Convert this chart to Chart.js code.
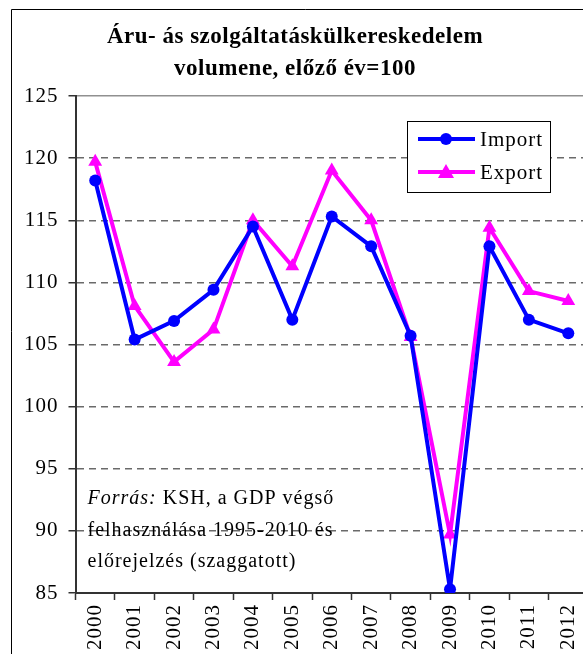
<!DOCTYPE html>
<html>
<head>
<meta charset="utf-8">
<script src="https://cdn.jsdelivr.net/npm/chart.js@4/dist/chart.umd.min.js"></script>
<style>
  html, body { margin: 0; padding: 0; overflow: hidden; background: #fff; }
  canvas { display: block; }
</style>
</head>
<body>
<canvas id="chart" width="600" height="654"></canvas>
<script>
var years = ["2000", "2001", "2002", "2003", "2004", "2005", "2006", "2007", "2008", "2009", "2010", "2011", "2012"];
var importValues = [118.2, 105.4, 106.9, 109.4, 114.5, 107.0, 115.3, 112.9, 105.7, 85.3, 112.9, 107.0, 105.9];
var exportValues = [119.7, 108.1, 103.6, 106.2, 115.0, 111.3, 119.0, 115.0, 105.6, 89.7, 114.4, 109.3, 108.5];
var yTicks = [85, 90, 95, 100, 105, 110, 115, 120, 125];

var titleLines = ["Áru- ás szolgáltatáskülkereskedelem", "volumene, előző év=100"];
var noteLines = [["Forrás:", " KSH, a GDP végső"], ["", "felhasználása 1995-2010 és"], ["", "előrejelzés (szaggatott)"]];

var serif = "'Liberation Serif', 'Times New Roman', serif";

// letter spacing like the original picture
var spacingPlugin = {
    id: "spacing",
    afterInit: function(chart) { chart.ctx.letterSpacing = "1px"; },
    beforeUpdate: function(chart) { chart.ctx.letterSpacing = "1px"; },
    beforeDraw: function(chart) { chart.ctx.letterSpacing = "1px"; }
};

// frame, title, legend box and source note
var extrasPlugin = {
    id: "extras",
    afterDraw: function(chart) {
        var ctx = chart.ctx;
        var area = chart.chartArea;
        ctx.save();

        // outer frame (left + top)
        ctx.strokeStyle = "#000";
        ctx.lineWidth = 1;
        ctx.beginPath();
        ctx.moveTo(11.5, chart.height);
        ctx.lineTo(11.5, 9.5);
        ctx.lineTo(chart.width, 9.5);
        ctx.stroke();

        // title
        ctx.fillStyle = "#000";
        ctx.font = "bold 23px " + serif;
        ctx.letterSpacing = "0.5px";
        ctx.textAlign = "center";
        ctx.textBaseline = "middle";
        titleLines.forEach(function(t, i) {
            ctx.fillText(t, 295, 37 + i * 32);
        });
        ctx.letterSpacing = "1px";

        // legend
        var lx = 407, ly = 121, lw = 143, lh = 71;
        ctx.fillStyle = "#fff";
        ctx.fillRect(lx, ly, lw, lh);
        ctx.strokeStyle = "#000";
        ctx.strokeRect(lx + 0.5, ly + 0.5, lw, lh);

        var entries = [
            { label: "Import", color: "#0000ff", y: ly + 18, marker: "circle" },
            { label: "Export", color: "#ff00ff", y: ly + 51, marker: "triangle" }
        ];
        entries.forEach(function(e) {
            ctx.strokeStyle = e.color;
            ctx.lineWidth = 4;
            ctx.beginPath();
            ctx.moveTo(lx + 11, e.y);
            ctx.lineTo(lx + 68, e.y);
            ctx.stroke();
            ctx.fillStyle = e.color;
            ctx.beginPath();
            if (e.marker === "circle") {
                ctx.arc(lx + 39, e.y, 6, 0, Math.PI * 2);
            } else {
                ctx.moveTo(lx + 39, e.y - 8);
                ctx.lineTo(lx + 47, e.y + 6);
                ctx.lineTo(lx + 31, e.y + 6);
                ctx.closePath();
            }
            ctx.fill();
            ctx.fillStyle = "#000";
            ctx.font = "21px " + serif;
            ctx.textBaseline = "middle";
            ctx.textAlign = "left";
            ctx.fillText(e.label, lx + 73, e.y + 1);
        });

        // source note
        ctx.fillStyle = "#000";
        ctx.textAlign = "left";
        ctx.textBaseline = "middle";
        noteLines.forEach(function(line, i) {
            var x = area.left + 12;
            var y = 499 + i * 31.5;
            if (line[0]) {
                ctx.font = "italic 20px " + serif;
                ctx.fillText(line[0], x, y);
                x += ctx.measureText(line[0]).width;
            }
            ctx.font = "20px " + serif;
            ctx.fillText(line[1], x, y);
        });
        ctx.restore();
    }
};

var config = {
    type: "line",
    data: {
        labels: years,
        datasets: [{
            label: "Import",
            data: importValues,
            borderColor: "#0000ff",
            backgroundColor: "#0000ff",
            borderWidth: 4,
            pointStyle: "circle",
            pointRadius: 6,
            pointBorderWidth: 0,
            tension: 0
        }, {
            label: "Export",
            data: exportValues,
            borderColor: "#ff00ff",
            backgroundColor: "#ff00ff",
            borderWidth: 4,
            pointStyle: "triangle",
            pointRadius: 8,
            pointBorderWidth: 0,
            tension: 0
        }]
    },
    options: {
        responsive: false,
        animation: false,
        devicePixelRatio: 1,
        layout: { padding: { left: 14, right: 12, top: 96, bottom: 0 } },
        plugins: {
            legend: { display: false },
            tooltip: { enabled: false },
            title: { display: false }
        },
        scales: {
            x: {
                offset: true,
                grid: {
                    offset: true,
                    drawOnChartArea: false,
                    drawTicks: true,
                    tickLength: 7,
                    tickColor: "#333",
                    tickWidth: 1.5
                },
                border: { display: true, color: "#333", width: 2 },
                ticks: {
                    color: "#000",
                    font: { family: serif, size: 21 },
                    maxRotation: 90,
                    minRotation: 90,
                    padding: 4,
                    autoSkip: false
                }
            },
            y: {
                min: 85,
                max: 125,
                afterBuildTicks: function(axis) {
                    axis.ticks = yTicks.map(function(v) { return { value: v }; });
                },
                grid: {
                    color: function(c) { return c.tick && c.tick.value === 125 ? "#909090" : "#6a6a6a"; },
                    lineWidth: 1.5,
                    tickLength: 7,
                    tickColor: "#333",
                    tickWidth: 1.5,
                    tickBorderDash: []
                },
                border: {
                    display: true,
                    color: "#333",
                    width: 2,
                    dash: function(c) { return c.tick && c.tick.value === 125 ? [] : [7, 5]; }
                },
                ticks: {
                    color: "#000",
                    font: { family: serif, size: 21 },
                    padding: 10
                }
            }
        }
    },
    plugins: [spacingPlugin, extrasPlugin]
};

var ctx = document.getElementById("chart");
window.myChart = new Chart(ctx, config);
</script>
</body>
</html>
